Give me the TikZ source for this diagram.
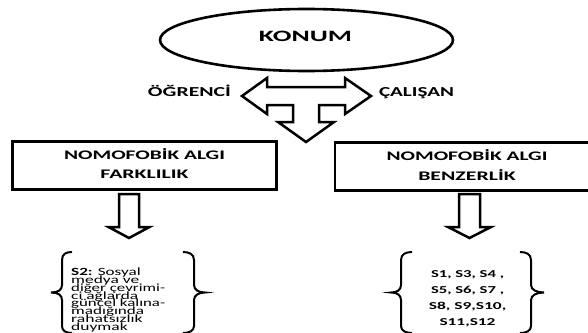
\documentclass[tikz,border=0pt]{standalone}
\usepackage{graphicx}
\usepackage{fontspec}
\setmainfont{Carlito}
\newcommand\tightlines{\lineskiplimit=-20pt\relax}
\newcommand\fw[2]{\resizebox{#1pt}{\height}{#2}}
\usetikzlibrary{shapes.geometric}
\begin{document}
\begin{tikzpicture}[x=1pt,y=-1pt]
\tikzset{
  hdr/.style={font=\bfseries\fontsize{13.1}{16}\selectfont, inner sep=0pt, anchor=base},
  hbox/.style={draw, rectangle, line width=2.6pt, inner sep=0pt},
  blk/.style={draw, line width=2.5pt, fill=white, line join=miter},
  brc/.style={draw, line width=2pt},
}
\useasboundingbox (0,0) rectangle (588,332);
\clip (0,0) rectangle (588,332);
\fill[white] (0,0) rectangle (588,332);

% top ellipse
\node[draw, ellipse, line width=2.6pt, minimum width=293pt, minimum height=62pt, inner sep=0pt] (konum) at (306.5,40) {};
\node[anchor=base, inner sep=0pt, font=\bfseries\fontsize{15.8}{18}\selectfont] (konumtxt) at (305.5,41.7) {\fw{93}{KONUM}};

% three-way block arrow
\draw[blk] (242,96) -- (267,78) -- (267,87) -- (345,87) -- (345,78) -- (371,96)
  -- (345,114) -- (345,105) -- (319,105) -- (319,122) -- (334,122) -- (306,142)
  -- (278,122) -- (293,122) -- (293,105) -- (267,105) -- (267,114) -- cycle;

\node[hdr, font=\bfseries\fontsize{13.7}{16}\selectfont] (ogrenci) at (189.5,96) {\fw{83}{ÖĞRENCİ}};
\node[hdr, font=\bfseries\fontsize{13.7}{16}\selectfont] (calisan) at (416.5,96) {\fw{75}{ÇALIŞAN}};

% boxes
\node[hbox, minimum width=264pt, minimum height=48pt] (fark) at (144.5,165.5) {};
\node[hdr] (fark1) at (144.5,159) {\fw{161}{NOMOFOBİK ALGI}};
\node[hdr] (fark2) at (144.5,178.3) {\fw{88}{FARKLILIK}};
\node[hbox, minimum width=265pt, minimum height=48pt] (benz) at (467.5,166.5) {};
\node[hdr] (benz1) at (467,160.5) {\fw{161}{NOMOFOBİK ALGI}};
\node[hdr] (benz2) at (467,180) {\fw{97.5}{BENZERLİK}};

% down arrows
\draw[blk] (119,194) -- (139,194) -- (139,227) -- (149.5,227) -- (129,238) -- (108.5,227) -- (119,227) -- cycle;
\draw[blk] (459,194) -- (480,194) -- (480,227) -- (491,227) -- (469.5,238) -- (448,227) -- (459,227) -- cycle;

% left group braces
\draw[brc] (72,252) .. controls (66,252) and (62,254) .. (62,260) -- (62,285)
  .. controls (62,290) and (58,292.5) .. (51,292.5)
  .. controls (58,292.5) and (62,295) .. (62,300) -- (62,326)
  .. controls (62,331) and (66,333) .. (72,333);
\draw[brc] (183,252) .. controls (189,252) and (194,254) .. (194,260) -- (194,285)
  .. controls (194,290) and (199,292.5) .. (205,292.5)
  .. controls (199,292.5) and (194,295) .. (194,300) -- (194,326)
  .. controls (194,331) and (189,333) .. (183,333);
\node[anchor=north west, align=left, inner sep=0pt,
  font=\fontsize{11}{7.9}\selectfont\tightlines] (s2) at (71,267.5)
  {\fw{69.5}{\textbf{S2:} Sosyal}\\\fw{68}{medya ve}\\\fw{94}{diğer çevrimi-}\\\fw{67}{ci ağlarda}\\\fw{94}{güncel kalına-}\\\fw{73}{madığında}\\\fw{71.5}{rahatsızlık}\\\fw{56.5}{duymak}};

% right group braces
\draw[brc] (412,252) .. controls (406,252) and (401,254) .. (401,260) -- (401,285)
  .. controls (401,290) and (397,292.5) .. (391,292.5)
  .. controls (397,292.5) and (401,295) .. (401,300) -- (401,326)
  .. controls (401,331) and (406,333) .. (412,333);
\draw[brc] (520,252) .. controls (526,252) and (531,254) .. (531,260) -- (531,285)
  .. controls (531,290) and (537,292.5) .. (544,292.5)
  .. controls (537,292.5) and (531,295) .. (531,300) -- (531,326)
  .. controls (531,331) and (526,333) .. (520,333);
\node[anchor=north, align=center, inner sep=0pt,
  font=\bfseries\fontsize{10.6}{16.1}\selectfont] (slist) at (467.5,270.2)
  {\fw{73}{S1, S3, S4 ,}\\\fw{73}{S5, S6, S7 ,}\\\fw{77.5}{S8, S9,S10,}\\\fw{56}{S11,S12}};
\end{tikzpicture}
\end{document}
